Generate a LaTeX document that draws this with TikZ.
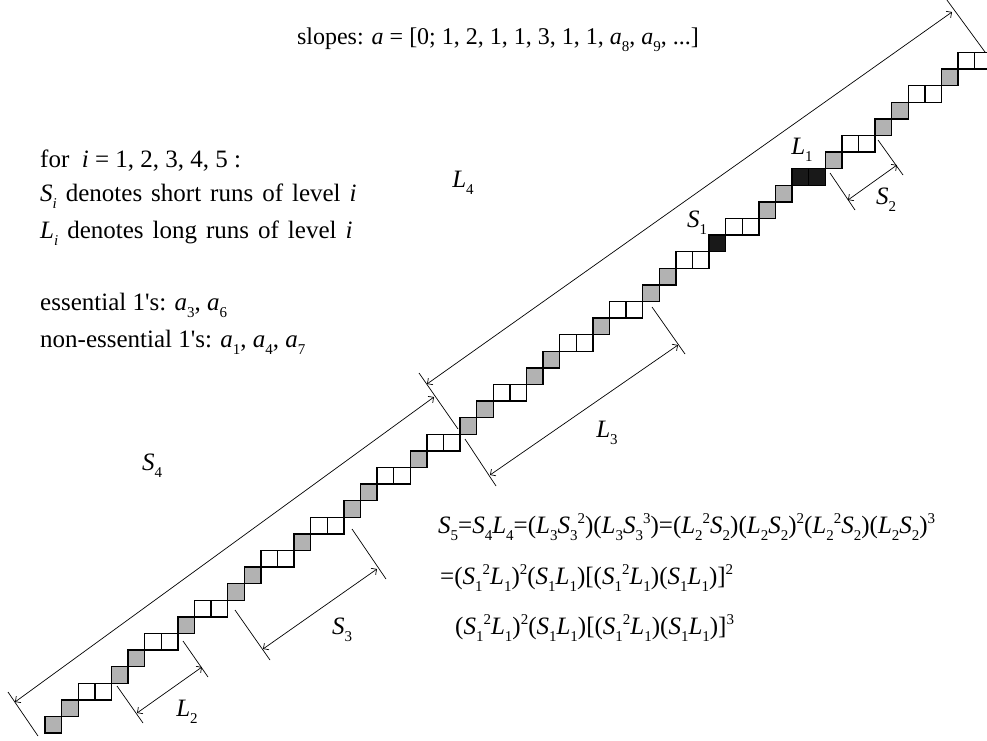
\documentclass[tikz,border=0pt]{standalone}
\usepackage{fontspec}
\setmainfont{Liberation Serif}
\usetikzlibrary{arrows.meta}
\newcommand\mysub[1]{\raisebox{-0.28em}{\fontsize{15}{15}\selectfont #1}}
\newcommand\mysup[1]{\raisebox{0.38em}{\fontsize{15}{15}\selectfont #1}}
\newcommand\iv[2]{\textit{#1}\mysub{#2}}
\newcommand\pw[1]{\mysup{#1}}
\newcommand\apos{\textquotesingle}
\tikzset{
  cellg/.style={draw=black, fill=black!30, line width=1.4pt},
  cellw/.style={draw=black, fill=white, line width=1.4pt},
  cellb/.style={draw=black, fill=black!90, line width=1.4pt},
  extline/.style={draw=black, line width=0.7pt},
  dimline/.style={draw=black, line width=0.7pt, {Straight Barb[length=4pt,width=8pt]}-{Straight Barb[length=4pt,width=8pt]}},
  txt/.style={font=\fontsize{25}{30}\selectfont, inner sep=0pt},
  lab/.style={font=\fontsize{25}{30}\selectfont, inner sep=0pt},
}
\begin{document}
\begin{tikzpicture}[x=1pt,y=-1pt]
\useasboundingbox (0,0) rectangle (987,740);
\def\c{16.6}
% staircase: row/start/length/type
\foreach \r/\s/\n/\t in {0/0/1/g,1/1/1/g,2/2/2/w,3/4/1/g,4/5/1/g,5/6/2/w,6/8/1/g,7/9/2/w,8/11/1/g,9/12/1/g,
  10/13/2/w,11/15/1/g,12/16/2/w,13/18/1/g,14/19/1/g,15/20/2/w,16/22/1/g,17/23/2/w,18/25/1/g,19/26/1/g,
  20/27/2/w,21/29/1/g,22/30/1/g,23/31/2/w,24/33/1/g,25/34/2/w,26/36/1/g,27/37/1/g,28/38/2/w,29/40/1/b,
  30/41/2/w,31/43/1/g,32/44/1/g,33/45/2/b,34/47/1/g,35/48/2/w,36/50/1/g,37/51/1/g,38/52/2/w,39/54/1/g,40/55/2/w}{
  \pgfmathsetmacro\xa{45+\s*\c}
  \pgfmathsetmacro\xb{45+(\s+\n)*\c}
  \pgfmathsetmacro\xm{45+(\s+1)*\c}
  \pgfmathsetmacro\yb{733-\r*\c}
  \pgfmathsetmacro\yt{733-(\r+1)*\c}
  \path[cell\t] (\xa,\yb) rectangle (\xb,\yt);
  \ifnum\n=2 \draw[line width=1.4pt] (\xm,\yb) -- (\xm,\yt); \fi
}
% extension lines
\coordinate (e0a) at (8,692);   \coordinate (e0b) at (38,736);
\coordinate (e1a) at (419,373); \coordinate (e1b) at (458,429);
\coordinate (e2a) at (944,-4);  \coordinate (e2b) at (985,52);
\coordinate (l2a) at (117,686); \coordinate (l2b) at (143,723);
\coordinate (l2c) at (183,641); \coordinate (l2d) at (208,677);
\coordinate (s3a) at (235,610); \coordinate (s3b) at (270,660);
\coordinate (s3c) at (352,529); \coordinate (s3d) at (386,579);
\coordinate (l3a) at (465,439); \coordinate (l3b) at (496,486);
\coordinate (l3c) at (652,307); \coordinate (l3d) at (685,354);
\coordinate (s2a) at (830,173); \coordinate (s2b) at (855,210);
\coordinate (s2c) at (878,140); \coordinate (s2d) at (903,175);
\foreach \a/\b in {e0a/e0b,e1a/e1b,e2a/e2b,l2a/l2b,l2c/l2d,s3a/s3b,s3c/s3d,l3a/l3b,l3c/l3d,s2a/s2b,s2c/s2d}
  \path[extline] (\a) -- (\b);
% dimension arrows
\coordinate (S4a) at (15,702);  \coordinate (S4b) at (434,397);
\coordinate (L4a) at (427,384); \coordinate (L4b) at (952,12);
\coordinate (L2a) at (137,713); \coordinate (L2b) at (202,667);
\coordinate (S3a) at (263,649); \coordinate (S3b) at (377,569);
\coordinate (L3a) at (490,475); \coordinate (L3b) at (678,345);
\coordinate (S2a) at (848,200); \coordinate (S2b) at (897,165);
\foreach \a/\b in {S4a/S4b,L4a/L4b,L2a/L2b,S3a/S3b,L3a/L3b,S2a/S2b}
  \path[dimline] (\a) -- (\b);
% labels
\node[lab] (tL4) at (463,183) {\iv{L}{4}};
\node[lab] (tS4) at (152,466) {\iv{S}{4}};
\node[lab] (tL3) at (607,433) {\iv{L}{3}};
\node[lab] (tS3) at (342,630) {\iv{S}{3}};
\node[lab] (tL2) at (187,712) {\iv{L}{2}};
\node[lab] (tS2) at (886,200) {\iv{S}{2}};
\node[lab] (tL1) at (802,150) {\iv{L}{1}};
\node[lab] (tS1) at (697,223) {\iv{S}{1}};
% texts
\node[txt, font=\fontsize{24}{30}\selectfont] (slopes) at (498,40) {slopes: \textit{a} = [0; 1, 2, 1, 1, 3, 1, 1, \iv{a}{8}, \iv{a}{9}, ...]};
\node[txt, anchor=west] (for) at (40,161) {for\ \ \textit{i} = 1, 2, 3, 4, 5 :};
\node[txt, anchor=west] (si) at (40,196) {\spaceskip=9pt\iv{S}{\textit{i}} denotes short runs of level \textit{i}};
\node[txt, anchor=west] (li) at (40,233) {\spaceskip=9pt\iv{L}{\textit{i}} denotes long runs of level \textit{i}};
\node[txt, anchor=west] (ess) at (40,305) {essential 1\apos s: \iv{a}{3}, \iv{a}{6}};
\node[txt, anchor=west] (ness) at (40,342) {non-essential 1\apos s: \iv{a}{1}, \iv{a}{4}, \iv{a}{7}};
\node[txt, anchor=west] (eq1) at (438,527) {\iv{S}{5}=\iv{S}{4}\iv{L}{4}=(\iv{L}{3}\iv{S}{3}\pw{2})(\iv{L}{3}\iv{S}{3}\pw{3})=(\iv{L}{2}\pw{2}\iv{S}{2})(\iv{L}{2}\iv{S}{2})\pw{2}(\iv{L}{2}\pw{2}\iv{S}{2})(\iv{L}{2}\iv{S}{2})\pw{3}};
\node[txt, anchor=west] (eq2) at (440,578) {=(\iv{S}{1}\pw{2}\iv{L}{1})\pw{2}(\iv{S}{1}\iv{L}{1})[(\iv{S}{1}\pw{2}\iv{L}{1})(\iv{S}{1}\iv{L}{1})]\pw{2}};
\node[txt, anchor=west] (eq3) at (455,628) {(\iv{S}{1}\pw{2}\iv{L}{1})\pw{2}(\iv{S}{1}\iv{L}{1})[(\iv{S}{1}\pw{2}\iv{L}{1})(\iv{S}{1}\iv{L}{1})]\pw{3}};
\end{tikzpicture}
\end{document}
